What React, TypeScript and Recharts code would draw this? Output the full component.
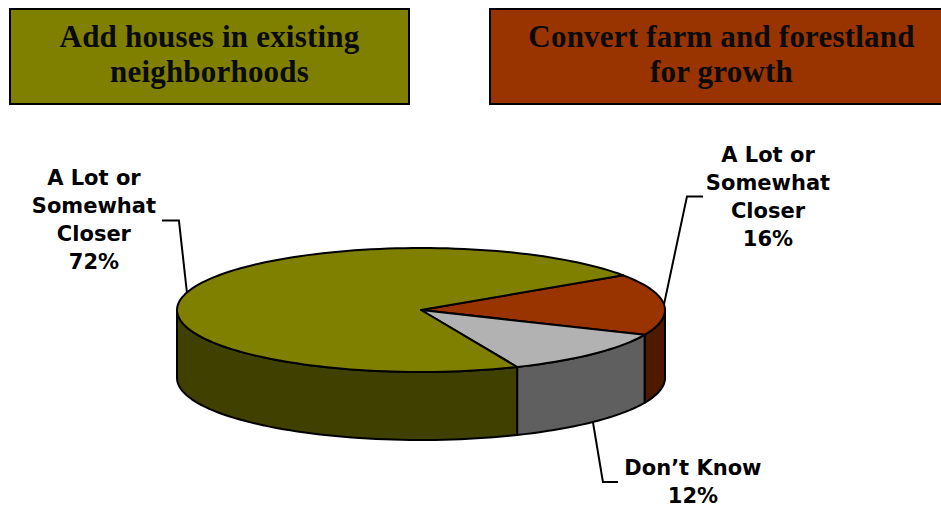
import { PieChart, Pie } from 'recharts'

// slices go clockwise from the upper right, same order as the original
const categories = ['Closer (farm/forest)', 'Don’t Know', 'Closer (neighborhoods)']
const shares = [16, 12, 72]
const labelLines = [['A Lot or', 'Somewhat', 'Closer'], ['Don’t Know'], ['A Lot or', 'Somewhat', 'Closer']]
const topColors = ['#993300', '#b2b2b2', '#808000']
const sideColors = ['#4d1a00', '#5f5f5f', '#404000']

const titleLines = [
  ['Add houses in existing', 'neighborhoods'],
  ['Convert farm and forestland', 'for growth'],
]
const titleColors = ['#808000', '#993300']

const data = categories.map((name, i) => ({ name, value: shares[i] }))

const TILT = 62 / 244
const DEPTH = 68
const FONT = '"DejaVu Sans", Verdana, sans-serif'

// where each callout goes, relative to the point where its leader touches the pie
const callouts = [
  { elbow: [23, -108], tail: 16, textDx: 104, textDy: -142 },
  { elbow: [10, 60], tail: 15, textDx: 100, textDy: 53 },
  { elbow: [-8, -72], tail: -17, textDx: -93, textDy: -107 },
]

const rad = (a: number) => (a * Math.PI) / 180

function Slice3D(props: any) {
  const { cx, cy, outerRadius, startAngle, endAngle, midAngle, index, value } = props
  const rx = outerRadius
  const ry = outerRadius * TILT
  const pt = (a: number, dz = 0) => [cx + rx * Math.cos(rad(a)), cy - ry * Math.sin(rad(a)) + dz]
  const arc = (a: number, b: number, dz = 0) => {
    const n = Math.max(2, Math.ceil(Math.abs(b - a) / 2))
    const out: string[] = []
    for (let k = 0; k <= n; k++) {
      const p = pt(a + ((b - a) * k) / n, dz)
      out.push(`${p[0].toFixed(2)},${p[1].toFixed(2)}`)
    }
    return out
  }

  const lo = Math.min(startAngle, endAngle)
  const hi = Math.max(startAngle, endAngle)

  // front wall: parts of the slice that lie in the lower half of the ellipse
  const sides: string[] = []
  for (let k = -2; k <= 1; k++) {
    const a = Math.max(lo, -180 + 360 * k)
    const b = Math.min(hi, 360 * k)
    if (b > a) {
      const top = arc(a, b)
      const bottom = arc(b, a, DEPTH)
      sides.push(`M${top.join(' L')} L${bottom.join(' L')} Z`)
    }
  }

  const topPath = `M${cx},${cy} L${arc(startAngle, endAngle).join(' L')} Z`

  const m = ((midAngle % 360) + 360) % 360
  const front = Math.sin(rad(m)) < 0
  const anchor = pt(m, front ? DEPTH : 0)
  const c = callouts[index]
  const elbow = [anchor[0] + c.elbow[0], anchor[1] + c.elbow[1]]
  const tailX = elbow[0] + c.tail
  const lines = [...labelLines[index], `${value}%`]
  const tx = anchor[0] + c.textDx
  const ty = anchor[1] + c.textDy

  return (
    <g>
      {sides.map((d, i) => (
        <path key={i} d={d} fill={sideColors[index]} stroke="#000" strokeWidth={2} strokeLinejoin="round" />
      ))}
      <path d={topPath} fill={topColors[index]} stroke="#000" strokeWidth={2} strokeLinejoin="round" />
      <polyline
        points={`${anchor[0]},${anchor[1]} ${elbow[0]},${elbow[1]} ${tailX},${elbow[1]}`}
        fill="none"
        stroke="#000"
        strokeWidth={2}
      />
      <text textAnchor="middle" fontFamily={FONT} fontWeight="bold" fontSize={21} fill="#000">
        {lines.map((l, i) => (
          <tspan key={i} x={tx} y={ty + i * 28}>
            {l}
          </tspan>
        ))}
      </text>
    </g>
  )
}

const boxes = [
  { left: 9, width: 401 },
  { left: 489, width: 465 },
]

export default function App() {
  return (
    <div
      style={{
        position: 'fixed',
        left: 0,
        top: 0,
        width: 941,
        height: 508,
        overflow: 'hidden',
        background: '#fff',
      }}
    >
      {titleLines.map((lines, i) => (
        <div
          key={i}
          style={{
            position: 'absolute',
            left: boxes[i].left,
            top: 8,
            width: boxes[i].width,
            height: 97,
            boxSizing: 'border-box',
            border: '2px solid #000',
            background: titleColors[i],
            color: '#0a0a0a',
            fontFamily: '"Liberation Serif", serif',
            fontWeight: 'bold',
            fontSize: 31,
            letterSpacing: 0.2,
            lineHeight: '35px',
            textAlign: 'center',
            paddingTop: 9,
            whiteSpace: 'nowrap',
          }}
        >
          {lines[0]}
          <br />
          {lines[1]}
        </div>
      ))}
      <div style={{ position: 'absolute', left: 0, top: 0 }}>
        <PieChart width={941} height={508} margin={{ top: 0, right: 0, bottom: 0, left: 0 }}>
          <Pie
            data={data}
            dataKey="value"
            nameKey="name"
            cx={421}
            cy={310}
            outerRadius={244}
            startAngle={34}
            endAngle={-326}
            fill="none"
            stroke="none"
            label={Slice3D}
            labelLine={false}
            isAnimationActive={false}
          />
        </PieChart>
      </div>
    </div>
  )
}
